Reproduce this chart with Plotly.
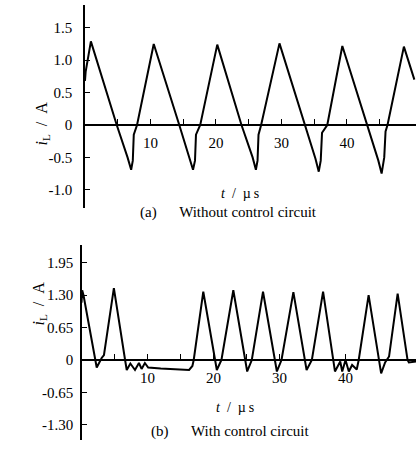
import plotly.graph_objects as go

# ---- data: (a) without control circuit ----
t_a = [0.0, 0.1, 0.9, 4.85, 6.5, 7.05, 7.3, 7.45, 7.95, 10.5, 14.4, 16.0, 16.5, 16.8, 16.95,
       17.6, 20.2, 23.9, 25.6, 26.1, 26.35, 26.5, 26.9, 29.7, 33.6, 35.2, 35.7, 36.0, 36.2,
       37.0, 39.3, 43.1, 44.8, 45.3, 45.7, 45.9, 46.2, 48.7, 50.3]
i_a = [0.68, 0.82, 1.29, 0.0, -0.5, -0.69, -0.55, -0.15, 0.0, 1.25, 0.0, -0.5, -0.69, -0.55, -0.15,
       0.0, 1.24, 0.0, -0.5, -0.69, -0.55, -0.15, 0.0, 1.26, 0.0, -0.52, -0.72, -0.55, -0.12,
       0.0, 1.22, 0.0, -0.55, -0.75, -0.5, -0.1, 0.0, 1.21, 0.70]

# ---- data: (b) with control circuit ----
t_b = [0.0, 0.1, 0.3, 2.3, 3.05, 3.4, 3.7, 4.9, 6.6, 6.85, 7.4, 8.1, 8.7, 9.1, 9.6, 10.1,
       12.0, 16.3, 16.8, 17.0, 18.45, 20.0, 20.5, 21.2, 23.0, 25.1, 25.8, 27.5, 29.6, 30.3,
       32.1, 34.1, 34.9, 36.6, 38.4, 39.2, 39.5, 40.0, 40.5, 41.0, 41.7, 42.0, 43.5, 45.4,
       46.0, 46.6, 47.9, 49.4, 49.6, 50.7]
i_b = [1.15, 1.40, 1.30, -0.15, 0.04, 0.10, 0.37, 1.44, 0.0, -0.2, -0.07, -0.2, -0.06, -0.18, -0.06, -0.15,
       -0.17, -0.2, -0.12, 0.0, 1.37, 0.2, -0.2, 0.0, 1.40, -0.23, 0.0, 1.37, -0.23, 0.0,
       1.36, -0.2, 0.0, 1.37, -0.23, -0.03, -0.23, 0.0, -0.23, -0.1, -0.19, 0.0, 1.30, -0.27,
       -0.05, 0.07, 1.33, 0.0, -0.05, -0.03]

x_major = [10, 20, 30, 40]
x_labels = ["10", "20", "30", "40"]
x_minor = [5, 15, 25, 35, 45]
ya_ticks = [-1.0, -0.5, 0, 0.5, 1.0, 1.5]
ya_ticktext = ["-1.0", "-0.5", "0", "0.5", "1.0", "1.5"]
yb_ticks = [-1.30, -0.65, 0, 0.65, 1.30, 1.95]
yb_ticktext = ["-1.30", "-0.65", "0", "0.65", "1.30", "1.95"]

W, H = 416, 468
FONT = "Liberation Serif"

ya_range = [-1.281, 1.852]
yb_range = [-1.605, 2.307]
ya_dom = [1 - 208 / H, 1 - 5 / H]
yb_dom = [1 - 440 / H, 1 - 245 / H]


def zero_pos(dom, rng):
    return dom[0] + (0 - rng[0]) / (rng[1] - rng[0]) * (dom[1] - dom[0])


fig = go.Figure()
fig.add_trace(go.Scatter(x=t_a, y=i_a, mode="lines", line=dict(color="black", width=2),
                         xaxis="x", yaxis="y", showlegend=False, hoverinfo="skip"))
fig.add_trace(go.Scatter(x=t_b, y=i_b, mode="lines", line=dict(color="black", width=2),
                         xaxis="x2", yaxis="y2", showlegend=False, hoverinfo="skip"))

common_x = dict(showgrid=False, zeroline=False, showline=True, linecolor="black", linewidth=1.5,
                ticks="inside", ticklen=5, tickwidth=1.2, tickcolor="black",
                tickvals=x_major, ticktext=x_labels, ticklabelstandoff=4,
                minor=dict(tickvals=x_minor, ticks="inside", ticklen=5, tickwidth=1.2,
                           tickcolor="black", showgrid=False),
                tickfont=dict(family=FONT, size=15, color="black"))
common_y = dict(showgrid=False, zeroline=False, showline=True, linecolor="black", linewidth=1.5,
                ticks="inside", ticklen=5, tickwidth=1.2, tickcolor="black",
                tickfont=dict(family=FONT, size=15, color="black"))

ylab = "<i>i</i><sub>L</sub>\u2002/\u2002A"
xlab = "<i>t</i>\u2002/\u2002µ\u2009s"

fig.update_layout(
    width=W, height=H, margin=dict(l=0, r=0, t=0, b=0),
    paper_bgcolor="white", plot_bgcolor="white",
    xaxis=dict(domain=[84 / W, 1], range=[-0.15, 50.55], anchor="free",
               position=zero_pos(ya_dom, ya_range), **common_x),
    yaxis=dict(domain=ya_dom, range=ya_range, anchor="free", position=84 / W,
               tickvals=ya_ticks, ticktext=ya_ticktext, ticklabelstandoff=8, **common_y),
    xaxis2=dict(domain=[81 / W, 1], range=[-0.08, 50.68], anchor="free",
                position=zero_pos(yb_dom, yb_range), **common_x),
    yaxis2=dict(domain=yb_dom, range=yb_range, anchor="free", position=81 / W,
                tickvals=yb_ticks, ticktext=yb_ticktext, ticklabelstandoff=4, **common_y),
    annotations=[
        dict(text=ylab, x=30 / W, y=1 - 100 / H, xref="paper", yref="paper",
             textangle=-90, showarrow=False, font=dict(family=FONT, size=16, color="black")),
        dict(text=ylab, x=27 / W, y=1 - 328 / H, xref="paper", yref="paper",
             textangle=-90, showarrow=False, font=dict(family=FONT, size=16, color="black")),
        dict(text=xlab, x=240 / W, y=1 - 193 / H, xref="paper", yref="paper",
             showarrow=False, font=dict(family=FONT, size=14, color="black")),
        dict(text=xlab, x=235 / W, y=1 - 417 / H, xref="paper", yref="paper",
             showarrow=False, font=dict(family=FONT, size=14, color="black")),
        dict(text="(a)\u2003\u2002Without control circuit", x=228 / W, y=1 - 213 / H,
             xref="paper", yref="paper", showarrow=False,
             font=dict(family=FONT, size=15, color="black")),
        dict(text="(b)\u2003\u2002With control circuit", x=230 / W, y=1 - 442 / H,
             xref="paper", yref="paper", showarrow=False,
             font=dict(family=FONT, size=15, color="black")),
    ],
)

fig.write_html("out.html", config={"displayModeBar": False},
               post_script="document.body.style.margin='0';"
               "document.body.style.overflow='hidden';")
